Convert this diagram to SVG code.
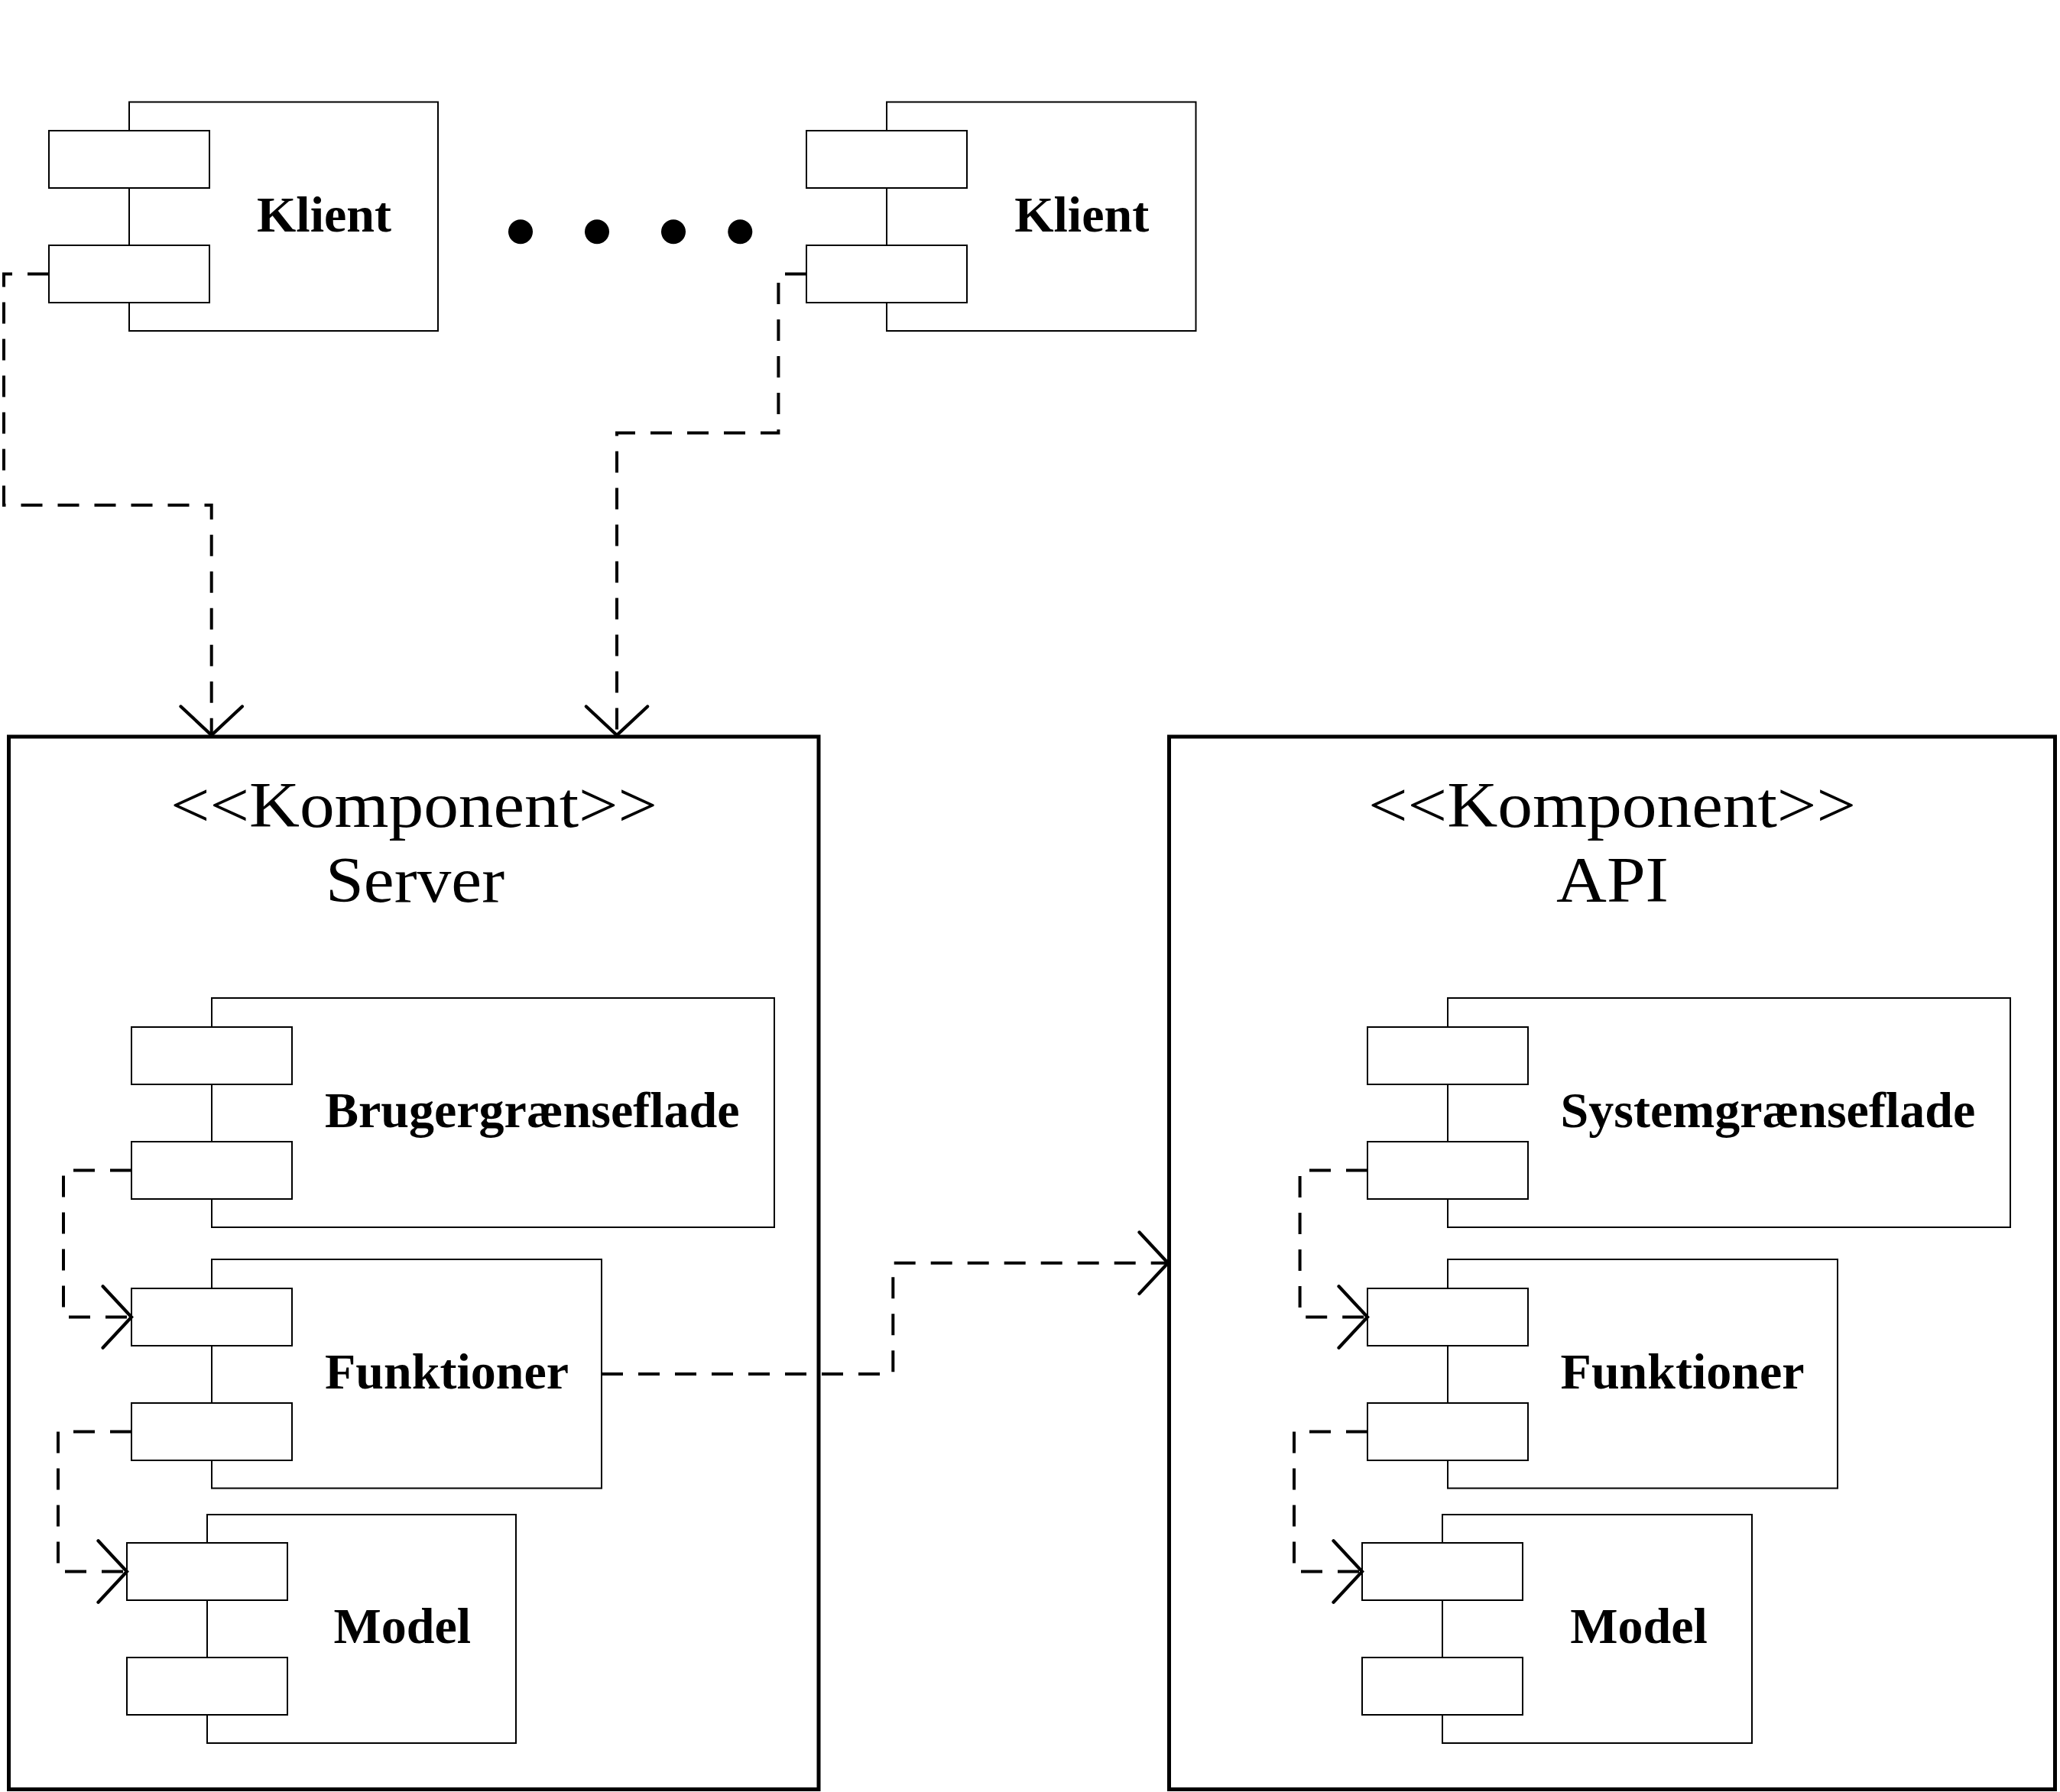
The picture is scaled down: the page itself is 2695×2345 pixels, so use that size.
<svg xmlns="http://www.w3.org/2000/svg" width="2695" height="2345" viewBox="0 0 2695 2345">
<style>
.bg{fill:#ffffff}
.outer{fill:none;stroke:#000;stroke-width:2}
.port{fill:#ffffff;stroke:#000;stroke-width:2}
.frame{fill:none;stroke:#000;stroke-width:5}
.lbl{font-family:"Liberation Serif","Times New Roman",serif;font-weight:bold;font-size:66px;fill:#000}
.ttl{font-family:"Liberation Serif","Times New Roman",serif;font-size:85px;fill:#000}
.dep{fill:none;stroke:#000;stroke-width:4;stroke-dasharray:28 20}
.dot{fill:#000}
</style>
<defs>
<marker id="arr" markerUnits="userSpaceOnUse" markerWidth="80" markerHeight="90" viewBox="-40 -42 44 84" refX="0" refY="0" orient="auto" overflow="visible">
<path d="M -35 -37.5 L 0 0 L -35 37.5" fill="none" stroke="#000" stroke-width="4" stroke-linecap="round" stroke-linejoin="miter"/>
</marker>
</defs>
<rect class="bg" x="0" y="0" width="2695" height="2345"/>

<g id="klient1">
<rect class="outer" x="169" y="133.5" width="404" height="299.5"/>
<rect class="port" x="64" y="171" width="210" height="75"/>
<rect class="port" x="64" y="321" width="210" height="75"/>
<text class="lbl" x="336" y="302.5">Klient</text>
</g>

<g id="ellipsis">
<circle class="dot" cx="681" cy="303.3" r="16"/>
<circle class="dot" cx="781" cy="303.3" r="16"/>
<circle class="dot" cx="881" cy="303.3" r="16"/>
<circle class="dot" cx="968.3" cy="303.3" r="16"/>
</g>

<g id="klient2">
<rect class="outer" x="1160" y="133.5" width="404.5" height="299.5"/>
<rect class="port" x="1055" y="171" width="210" height="75"/>
<rect class="port" x="1055" y="321" width="210" height="75"/>
<text class="lbl" x="1327.2" y="302.5">Klient</text>
</g>

<g id="server">
<rect class="frame" x="11.5" y="964" width="1059.5" height="1377.5"/>
<text class="ttl" x="223" y="1081.7" textLength="637" lengthAdjust="spacingAndGlyphs">&lt;&lt;Komponent&gt;&gt;</text>
<text class="ttl" x="426" y="1180" textLength="234" lengthAdjust="spacingAndGlyphs">Server</text>
</g>

<g id="brugergraenseflade">
<rect class="outer" x="277" y="1306" width="736" height="300"/>
<rect class="port" x="172" y="1344" width="210" height="75"/>
<rect class="port" x="172" y="1494" width="210" height="75"/>
<text class="lbl" x="425" y="1474.5">Brugergrænseflade</text>
</g>

<g id="server-funktioner">
<rect class="outer" x="277" y="1648" width="510" height="299.5"/>
<rect class="port" x="172" y="1686" width="210" height="75"/>
<rect class="port" x="172" y="1836" width="210" height="75"/>
<text class="lbl" x="425" y="1817">Funktioner</text>
</g>

<g id="server-model">
<rect class="outer" x="271" y="1982" width="404" height="299"/>
<rect class="port" x="166" y="2019" width="210" height="75"/>
<rect class="port" x="166" y="2169" width="210" height="75"/>
<text class="lbl" x="436.5" y="2150">Model</text>
</g>

<g id="api">
<rect class="frame" x="1529.5" y="964" width="1159" height="1377.5"/>
<text class="ttl" x="1790" y="1081.7" textLength="638" lengthAdjust="spacingAndGlyphs">&lt;&lt;Komponent&gt;&gt;</text>
<text class="ttl" x="2036" y="1180" textLength="147" lengthAdjust="spacingAndGlyphs">API</text>
</g>

<g id="systemgraenseflade">
<rect class="outer" x="1894" y="1306" width="736" height="300"/>
<rect class="port" x="1789" y="1344" width="210" height="75"/>
<rect class="port" x="1789" y="1494" width="210" height="75"/>
<text class="lbl" x="2041.6" y="1474.5">Systemgrænseflade</text>
</g>

<g id="api-funktioner">
<rect class="outer" x="1894" y="1648" width="510" height="299.5"/>
<rect class="port" x="1789" y="1686" width="210" height="75"/>
<rect class="port" x="1789" y="1836" width="210" height="75"/>
<text class="lbl" x="2041.6" y="1817">Funktioner</text>
</g>

<g id="api-model">
<rect class="outer" x="1887" y="1982" width="405" height="299"/>
<rect class="port" x="1782" y="2019" width="210" height="75"/>
<rect class="port" x="1782" y="2169" width="210" height="75"/>
<text class="lbl" x="2054.2" y="2150">Model</text>
</g>

<g id="connectors">
<path class="dep" d="M 64 358.5 L 5 358.5 L 5 661 L 276.7 661 L 276.7 962" marker-end="url(#arr)"/>
<path class="dep" d="M 1055 358.5 L 1018.4 358.5 L 1018.4 566.5 L 807 566.5 L 807 962" marker-end="url(#arr)"/>
<path class="dep" d="M 172 1531.5 L 83 1531.5 L 83 1723.5 L 172 1723.5" marker-end="url(#arr)"/>
<path class="dep" d="M 172 1873.5 L 76 1873.5 L 76 2056.5 L 166 2056.5" marker-end="url(#arr)"/>
<path class="dep" d="M 787 1798 L 1168.3 1798 L 1168.3 1652.7 L 1528 1652.7" marker-end="url(#arr)"/>
<path class="dep" d="M 1789 1531.5 L 1700.6 1531.5 L 1700.6 1723.5 L 1789 1723.5" marker-end="url(#arr)"/>
<path class="dep" d="M 1789 1873.5 L 1693 1873.5 L 1693 2056.5 L 1782 2056.5" marker-end="url(#arr)"/>
</g>
</svg>
